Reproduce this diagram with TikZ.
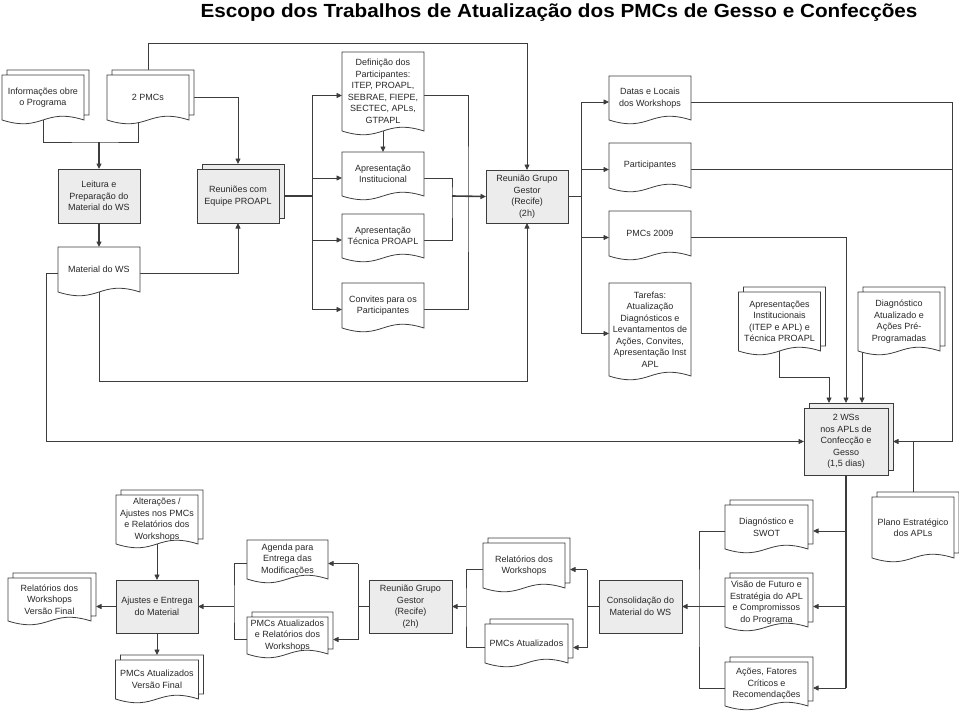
\documentclass[tikz,border=0pt]{standalone}
\usepackage{fontspec}
\setmainfont{Liberation Sans}
\usetikzlibrary{arrows.meta, positioning, calc, shadows, backgrounds}

\definecolor{linecol}{RGB}{60,60,60}
\definecolor{textcol}{RGB}{40,40,40}
\definecolor{boxgray}{RGB}{236,236,236}

% Formas de documento (borda inferior ondulada)
\makeatletter
\newdimen\docxa \newdimen\docya \newdimen\docxb \newdimen\docyb
\newdimen\docxc \newdimen\docyc \newdimen\docyd
\newdimen\docxe \newdimen\docxf \newdimen\docye \newdimen\docyf
\def\docwave{13pt}
\def\docoff{5pt}
\def\docgetcorners{%
  \southwest \docxa=\pgf@x \docya=\pgf@y
  \northeast \docxb=\pgf@x \docyb=\pgf@y
  \docxc=.5\docxa \advance\docxc by .5\docxb
  \docyc=\docya \advance\docyc by \docwave
  \docyd=\docya \advance\docyd by -\docwave}
\def\docfront{%
  \pgfpathmoveto{\pgfpoint{\docxa}{\docyb}}%
  \pgfpathlineto{\pgfpoint{\docxb}{\docyb}}%
  \pgfpathlineto{\pgfpoint{\docxb}{\docya}}%
  \pgfpathcurveto{\pgfpoint{\docxc}{\docyc}}{\pgfpoint{\docxc}{\docyd}}{\pgfpoint{\docxa}{\docya}}%
  \pgfpathclose}
\pgfdeclareshape{document}{%
  \inheritsavedanchors[from=rectangle]%
  \inheritanchorborder[from=rectangle]%
  \inheritanchor[from=rectangle]{center}%
  \inheritanchor[from=rectangle]{north}%
  \inheritanchor[from=rectangle]{south}%
  \inheritanchor[from=rectangle]{east}%
  \inheritanchor[from=rectangle]{west}%
  \inheritanchor[from=rectangle]{north west}%
  \inheritanchor[from=rectangle]{north east}%
  \inheritanchor[from=rectangle]{south west}%
  \inheritanchor[from=rectangle]{south east}%
  \anchor{left}{\northeast\pgf@ya=\pgf@y\southwest\advance\pgf@y by\pgf@ya\pgf@y=.5\pgf@y\advance\pgf@y by -4pt}%
  \anchor{right}{\southwest\pgf@ya=\pgf@y\northeast\advance\pgf@y by\pgf@ya\pgf@y=.5\pgf@y\advance\pgf@y by -4pt}%
  \backgroundpath{\docgetcorners\docfront}%
}
\pgfdeclareshape{multidocument}{%
  \inheritsavedanchors[from=rectangle]%
  \inheritanchorborder[from=rectangle]%
  \inheritanchor[from=rectangle]{center}%
  \inheritanchor[from=rectangle]{north}%
  \inheritanchor[from=rectangle]{south}%
  \inheritanchor[from=rectangle]{east}%
  \inheritanchor[from=rectangle]{west}%
  \inheritanchor[from=rectangle]{north west}%
  \inheritanchor[from=rectangle]{north east}%
  \inheritanchor[from=rectangle]{south west}%
  \inheritanchor[from=rectangle]{south east}%
  \anchor{left}{\northeast\pgf@ya=\pgf@y\southwest\advance\pgf@y by\pgf@ya\pgf@y=.5\pgf@y\advance\pgf@y by -4pt}%
  \anchor{right}{\southwest\pgf@ya=\pgf@y\northeast\advance\pgf@y by\pgf@ya\pgf@y=.5\pgf@y\advance\pgf@y by -4pt\advance\pgf@x by \docoff}%
  \backgroundpath{%
    \docgetcorners
    \docxe=\docxa \advance\docxe by \docoff
    \docxf=\docxb \advance\docxf by \docoff
    \docye=\docyb \advance\docye by \docoff
    \docyf=\docya \advance\docyf by \docoff
    \pgfpathmoveto{\pgfpoint{\docxe}{\docyb}}%
    \pgfpathlineto{\pgfpoint{\docxe}{\docye}}%
    \pgfpathlineto{\pgfpoint{\docxf}{\docye}}%
    \pgfpathlineto{\pgfpoint{\docxf}{\docyf}}%
    \pgfpathlineto{\pgfpoint{\docxb}{\docyf}}%
    \docfront}%
}
\makeatother

\begin{document}
\begin{tikzpicture}[x=1pt, y=-1pt,
        txt/.style={font=\fontsize{9}{11.5}\selectfont, text=textcol, align=center, inner sep=1pt, outer sep=0pt},
        doc/.style={txt, shape=document, draw=linecol, fill=white, line width=.8pt, minimum width=82pt},
        multidoc/.style={doc, shape=multidocument},
        box/.style={txt, rectangle, draw=linecol, fill=boxgray, line width=.8pt, minimum width=82pt, minimum height=53pt},
        stackbox/.style={box, copy shadow={shadow xshift=5pt, shadow yshift=5pt}},
        wire/.style={draw=linecol, line width=.8pt},
        arrow/.style={wire, -{Triangle[length=5.5pt, width=5pt]}},
        heavy/.style={line width=1.6pt}
    ]
        \useasboundingbox (0,0) rectangle (959,717);

        % Titulo
        \node[anchor=base, font=\fontsize{19}{22}\selectfont\bfseries, inner sep=0pt] (title) at (559,17.5) {\scalebox{1.09}[1]{Escopo dos Trabalhos de Atualização dos PMCs de Gesso e Confecções}};

        % Preparacao
        \node[multidoc, minimum height=45pt] (info) at (43,97.5) {Informações obre\\o Programa};
        \node[multidoc, minimum height=45pt] (pmcs) at (148,97.5) {2 PMCs};
        \node[box, minimum height=54pt] (leitura) at (99,196) {Leitura e\\Preparação do\\Material do WS};
        \node[doc, minimum height=45pt] (material) at (99,269.5) {Material do WS};
        \node[stackbox, minimum height=54pt] (reunioes) at (238,196) {Reuniões com\\Equipe PROAPL};

        \node[doc, minimum height=79pt] (definicao) at (383,91.5) {Definição dos\\Participantes:\\ITEP, PROAPL,\\SEBRAE, FIEPE,\\SECTEC, APLs,\\GTPAPL};
        \node[doc, minimum height=44pt] (apinst) at (383,174) {Apresentação\\Institucional};
        \node[doc, minimum height=44pt] (aptec) at (383,236) {Apresentação\\Técnica PROAPL};
        \node[doc, minimum height=45pt] (convites) at (383,305.5) {Convites para os\\Participantes};
        \node[box] (reuniao1) at (527,196.5) {Reunião Grupo\\Gestor\\(Recife)\\(2h)};

        % Saidas da reuniao
        \node[doc, minimum height=44pt] (datas) at (650,98) {Datas e Locais\\dos Workshops};
        \node[doc, minimum height=45pt] (particip) at (650,165.5) {Participantes};
        \node[doc, minimum height=45pt] (pmcs2009) at (650,233.5) {PMCs 2009};
        \node[doc, minimum height=93pt] (tarefas) at (650,329.5) {Tarefas:\\Atualização\\Diagnósticos e\\Levantamentos de\\Ações, Convites,\\Apresentação Inst\\APL};
        \node[multidoc, minimum height=59pt] (apres) at (779.5,321.5) {Apresentações\\Institucionais\\(ITEP e APL) e\\Técnica PROAPL};
        \node[multidoc, minimum height=59pt] (diagat) at (899,321.5) {Diagnóstico\\Atualizado e\\Ações Pré-\\Programadas};

        % Workshops
        \node[stackbox, minimum width=84pt, minimum height=67pt] (ws) at (846,441.5) {2 WSs\\nos APLs de\\Confecção e\\Gesso\\(1,5 dias)};
        \node[multidoc, minimum height=61pt] (plano) at (913,527.5) {Plano Estratégico\\dos APLs};
        \node[multidoc, minimum width=83pt, minimum height=44pt] (swot) at (766.5,527) {Diagnóstico e\\SWOT};
        \node[multidoc, minimum width=83pt, minimum height=49pt] (visao) at (766.5,602.5) {Visão de Futuro e\\Estratégia do APL\\e Compromissos\\do Programa};
        \node[multidoc, minimum width=83pt, minimum height=44pt] (acoes) at (766.5,684) {Ações, Fatores\\Críticos e\\Recomendações};

        % Consolidacao e entrega
        \node[box, minimum width=83pt] (consol) at (640.5,606.5) {Consolidação do\\Material do WS};
        \node[multidoc, minimum height=45pt] (relws) at (524,565.5) {Relatórios dos\\Workshops};
        \node[multidoc, minimum width=83pt, minimum height=39pt] (pmcsat) at (526.5,643.5) {PMCs Atualizados};
        \node[box, minimum width=83pt] (reuniao2) at (410.5,606.5) {Reunião Grupo\\Gestor\\(Recife)\\(2h)};
        \node[doc, minimum width=81pt, minimum height=39pt] (agenda) at (287.5,559.5) {Agenda para\\Entrega das\\Modificações};
        \node[multidoc, minimum width=81pt, minimum height=37pt] (pmcsrel) at (287.5,635.5) {PMCs Atualizados\\e Relatórios dos\\Workshops};
        \node[box] (ajustes) at (157,606.5) {Ajustes e Entrega\\do Material};
        \node[multidoc, minimum height=49pt] (alter) at (157,519.5) {Alterações /\\Ajustes nos PMCs\\e Relatórios dos\\Workshops};
        \node[multidoc, minimum width=83pt, minimum height=43pt] (relfinal) at (49.5,599.5) {Relatórios dos\\Workshops\\Versão Final};
        \node[multidoc, minimum width=83pt, minimum height=39pt] (pmcsfinal) at (157,679.5) {PMCs Atualizados\\Versão Final};

        % Pontos de juncao
        \coordinate (j1) at (99,142);
        \coordinate (cl) at (46,441.5);
        \coordinate (cb) at (527,381);
        \coordinate (busA) at (312,196);
        \coordinate (busB) at (452,196);
        \coordinate (busC) at (468,196);
        \coordinate (busD) at (581,196.5);
        \coordinate (cr) at (952,441.5);
        \coordinate (ca) at (829,377);
        \coordinate (cd) at (862,340);
        \coordinate (wsTop) at ([yshift=5pt]ws.north);
        \coordinate (busF) at (699,606.5);
        \coordinate (busG) at (587,606.5);
        \coordinate (busH) at (466,606.5);
        \coordinate (busI) at (358,606.5);
        \coordinate (busJ) at (234,606.5);

        % Conexoes
        \begin{scope}[on background layer]
        \draw[wire] (info.south) |- (j1) -| ([xshift=-10pt]pmcs.south);
        \draw[arrow, heavy] (j1) -- (leitura);
        \draw[arrow] (pmcs.north) -- ++(0,-32) -| (reuniao1.north);
        \draw[arrow] (pmcs.east) -| ([yshift=5pt]reunioes.north);
        \draw[arrow, heavy] (leitura) -- (material);
        \draw[arrow] (material.right) -| (reunioes.south);
        \draw[arrow] (material.left) -| (cl) -- (ws.west);
        \draw[arrow] (material.south) |- (cb) -- (reuniao1.south);

        \draw[wire, heavy] (reunioes.east) -- (busA);
        \draw[wire] (busA |- definicao.left) -- (busA |- convites.left);
        \draw[arrow] (busA |- definicao.left) -- (definicao.left);
        \draw[arrow] (busA |- apinst.left) -- (apinst.left);
        \draw[arrow] (busA |- aptec.left) -- (aptec.left);
        \draw[arrow] (busA |- convites.left) -- (convites.left);
        \draw[arrow] (definicao.south) -- (apinst.north);
        \draw[wire] (definicao.right) -| (busC) |- (convites.right);
        \draw[wire] (apinst.right) -| (busB) |- (aptec.right);
        \draw[arrow, heavy] (busB) -- (reuniao1.west);

        \draw[wire, heavy] (reuniao1.east) -- (busD);
        \draw[wire] (busD |- datas.left) -- (busD |- tarefas.left);
        \draw[arrow] (busD |- datas.left) -- (datas.left);
        \draw[arrow] (busD |- particip.left) -- (particip.left);
        \draw[arrow] (busD |- pmcs2009.left) -- (pmcs2009.left);
        \draw[arrow] (busD |- tarefas.left) -- (tarefas.left);

        \draw[arrow] (datas.right) -| (cr) -- ([xshift=5pt]ws.east);
        \draw[wire] (particip.right) -| (cr);
        \draw[arrow] (pmcs2009.right) -| (wsTop);
        \draw[arrow] (apres.south) |- (ca) -- (ca |- wsTop);
        \draw[arrow] (cd) -- (cd |- wsTop);
        \draw[wire] (cr -| plano.north) -- (plano.north);

        \draw[wire, heavy] (ws.south) -- (ws.south |- acoes.right);
        \draw[arrow] (ws.south |- swot.right) -- (swot.right);
        \draw[arrow] (ws.south |- visao.right) -- (visao.right);
        \draw[arrow] (ws.south |- acoes.right) -- (acoes.right);
        \draw[wire] (swot.left) -| (busF) |- (acoes.left);
        \draw[wire] (visao.left) -- (busF);
        \draw[arrow, heavy] (busF) -- (consol.east);

        \draw[wire] (consol.west) -- (busG);
        \draw[wire] (busG |- relws.right) -- (busG |- pmcsat.right);
        \draw[arrow] (busG |- relws.right) -- (relws.right);
        \draw[arrow] (busG |- pmcsat.right) -- (pmcsat.right);
        \draw[wire] (relws.left) -| (busH) |- (pmcsat.left);
        \draw[arrow] (busH) -- (reuniao2.east);

        \draw[wire] (reuniao2.west) -- (busI);
        \draw[wire] (busI |- agenda.right) -- (busI |- pmcsrel.right);
        \draw[arrow] (busI |- agenda.right) -- (agenda.right);
        \draw[arrow] (busI |- pmcsrel.right) -- (pmcsrel.right);
        \draw[wire] (agenda.left) -| (busJ) |- (pmcsrel.left);
        \draw[arrow, heavy] (busJ) -- (ajustes.east);
        \draw[arrow] (alter.south) -- (ajustes.north);
        \draw[arrow] (ajustes.west) -- (ajustes.west -| relfinal.right);
        \draw[arrow] (ajustes.south) -- ([yshift=5pt]pmcsfinal.north);
        \end{scope}

    \end{tikzpicture}
\end{document}
